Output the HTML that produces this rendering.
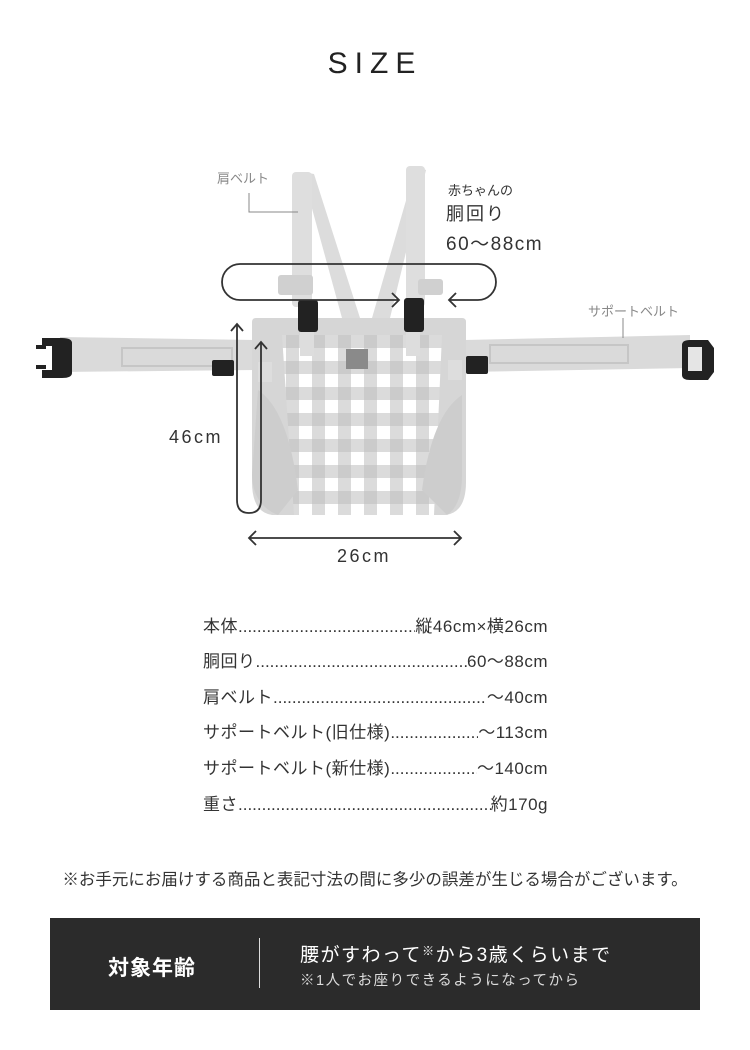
<!DOCTYPE html>
<html><head><meta charset="utf-8"><style>
body{margin:0;width:750px;height:1050px;background:#fff;font-family:"Liberation Sans","Noto Sans CJK JP",sans-serif;color:#333;position:relative;overflow:hidden}
.a{position:absolute;white-space:nowrap}
.row{position:absolute;left:203px;width:345px;display:flex;font-size:17px;letter-spacing:0.5px;line-height:20px;color:#333}
.row .d{flex:1;overflow:hidden;white-space:nowrap;letter-spacing:0}
</style></head><body>
<div class="a" style="left:0;width:750px;text-align:center;top:47px;font-size:30px;letter-spacing:7px;color:#222">SIZE</div>

<svg class="a" style="left:0;top:0" width="750" height="600" viewBox="0 0 750 600">
 <defs>
  <pattern id="g" x="286" y="335" width="26" height="26" patternUnits="userSpaceOnUse">
   <rect width="26" height="26" fill="#fff"/>
   <rect x="0" y="0" width="13" height="26" fill="#bdbdbd" opacity=".55"/>
   <rect x="0" y="0" width="26" height="13" fill="#bdbdbd" opacity=".55"/>
  </pattern>
 </defs>
 <polygon points="302,172 314,174 360,318 342,318" fill="#dcdcdc"/>
 <polygon points="416,166 426,170 390,318 372,318" fill="#dcdcdc"/>
 <rect x="292" y="172" width="20" height="135" rx="4" fill="#dedede"/>
 <rect x="406" y="166" width="19" height="141" rx="4" fill="#dedede"/>
 <rect x="278" y="275" width="35" height="20" rx="3" fill="#d0d0d0"/>
 <rect x="418" y="279" width="25" height="16" rx="3" fill="#d0d0d0"/>
 <polygon points="60,337 255,340 255,370 60,372" fill="#dadada"/>
 <polygon points="465,340 690,335 690,368 465,372" fill="#dadada"/>
 <rect x="122" y="348" width="110" height="18" fill="none" stroke="#c6c6c6" stroke-width="2"/>
 <rect x="490" y="345" width="138" height="18" fill="none" stroke="#c6c6c6" stroke-width="2"/>
 <path d="M42 338 h20 q10 0 10 5 v30 q0 5 -10 5 h-20 v-8 h10 v-24 h-10z" fill="#222"/>
 <path d="M36 345 h10 v4 h-10z M36 365 h10 v4 h-10z" fill="#222"/>
 <path d="M708 340 h-18 q-8 0 -8 5 v30 q0 5 8 5 h18 l6 -8 v-24z" fill="#222"/>
 <rect x="688" y="347" width="14" height="24" fill="#e5e5e5"/>
 <rect x="212" y="360" width="22" height="16" rx="2" fill="#222"/>
 <rect x="466" y="356" width="22" height="18" rx="2" fill="#222"/>
 <path d="M252 322 q0-4 4-4 h206 q4 0 4 4 v160 q0 30 -20 33 h-174 q-20 -3 -20 -33z" fill="#d6d6d6"/>
 <path d="M282 335 h160 l-8 180 h-140z" fill="url(#g)"/>
 <path d="M258 390 q30 20 40 100 l-20 25 q-25 -10 -26 -40z" fill="#cdcdcd"/>
 <path d="M462 395 q-30 20 -40 95 l25 25 q15 -10 15 -40z" fill="#cdcdcd"/>
 <rect x="346" y="349" width="22" height="20" fill="#8a8a8a"/>
 <rect x="300" y="330" width="14" height="26" fill="#ddd"/>
 <rect x="406" y="330" width="14" height="26" fill="#ddd"/>
 <rect x="298" y="300" width="20" height="32" rx="3" fill="#222"/>
 <rect x="404" y="298" width="20" height="34" rx="3" fill="#222"/>
 <rect x="258" y="362" width="14" height="20" fill="#ddd"/>
 <rect x="448" y="360" width="14" height="20" fill="#ddd"/>
 <path d="M398 300 H240 a18 18 0 0 1 0 -36 H478 a18 18 0 0 1 0 36 H450" fill="none" stroke="#333" stroke-width="1.8"/>
 <path d="M392 293 l7 7 -7 7 M456 293 l-7 7 7 7" fill="none" stroke="#333" stroke-width="1.8"/>
 <path d="M237 324 V500 q0 13 12 13 q12 0 12 -13 V342" fill="none" stroke="#333" stroke-width="1.8"/>
 <path d="M231 331 l6 -7 6 7 M255 349 l6 -7 6 7" fill="none" stroke="#333" stroke-width="1.8"/>
 <path d="M249 538 H461 M256 531 l-7 7 7 7 M454 531 l7 7 -7 7" fill="none" stroke="#333" stroke-width="1.8"/>
 <path d="M249 193 V212 H298" fill="none" stroke="#888" stroke-width="1"/>
 <path d="M623 318 V338" fill="none" stroke="#888" stroke-width="1"/>
</svg>

<div class="a" style="left:217px;top:168px;font-size:13px;color:#888">肩ベルト</div>
<div class="a" style="left:588px;top:301px;font-size:13px;color:#888">サポートベルト</div>
<div class="a" style="left:448px;top:180px;font-size:13px;color:#333">赤ちゃんの</div>
<div class="a" style="left:446px;top:200px;font-size:18px;letter-spacing:2px">胴回り</div>
<div class="a" style="left:446px;top:229px;font-size:19px;letter-spacing:1.5px">60〜88cm</div>
<div class="a" style="left:169px;top:427px;font-size:18px;letter-spacing:2.5px">46cm</div>
<div class="a" style="left:337px;top:546px;font-size:18px;letter-spacing:2.5px">26cm</div>

<div class="row" style="top:617px"><span>本体</span><span class="d">..................................................................</span><span>縦46cm×横26cm</span></div>
<div class="row" style="top:652px"><span>胴回り</span><span class="d">..................................................................</span><span>60〜88cm</span></div>
<div class="row" style="top:688px"><span>肩ベルト</span><span class="d">..................................................................</span><span>〜40cm</span></div>
<div class="row" style="top:723px"><span>サポートベルト(旧仕様)</span><span class="d">.........................</span><span>〜113cm</span></div>
<div class="row" style="top:759px"><span>サポートベルト(新仕様)</span><span class="d">.........................</span><span>〜140cm</span></div>
<div class="row" style="top:795px"><span>重さ</span><span class="d">..................................................................</span><span>約170g</span></div>

<div class="a" style="left:0;width:750px;text-align:center;top:866px;font-size:16.5px;color:#333">※お手元にお届けする商品と表記寸法の間に多少の誤差が生じる場合がございます。</div>

<div class="a" style="left:50px;top:918px;width:650px;height:92px;background:#2b2b2b"></div>
<div class="a" style="left:108px;top:952px;font-size:21px;color:#fff;letter-spacing:1px;font-weight:bold">対象年齢</div>
<div class="a" style="left:259px;top:938px;width:1px;height:50px;background:#ddd"></div>
<div class="a" style="left:300px;top:940px;font-size:19px;color:#fff;letter-spacing:1.5px">腰がすわって<span style="font-size:12px;vertical-align:6px">※</span>から3歳くらいまで</div>
<div class="a" style="left:300px;top:969px;font-size:14.5px;color:#ddd;letter-spacing:1.5px">※1人でお座りできるようになってから</div>
</body></html>
